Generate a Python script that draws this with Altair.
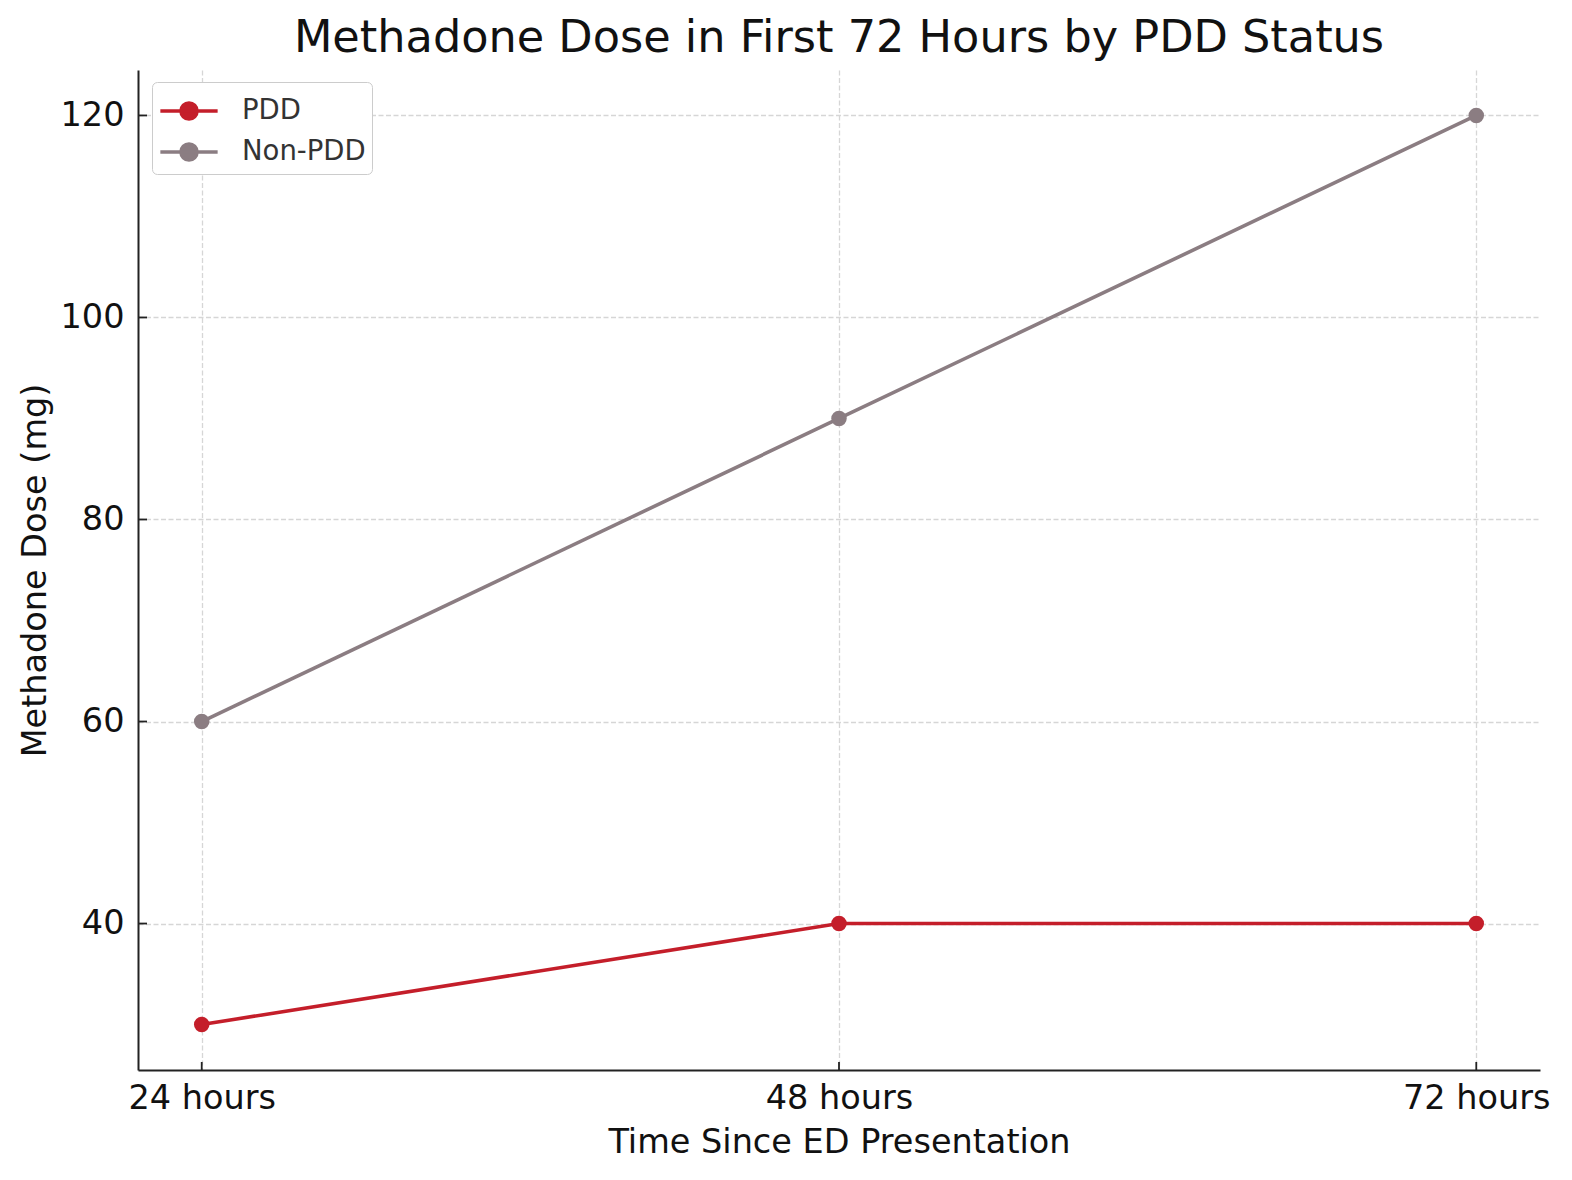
import altair as alt
import pandas as pd

times = ["24 hours", "48 hours", "72 hours"]
pdd = [30, 40, 40]
non_pdd = [60, 90, 120]
groups = ["PDD", "Non-PDD"]
colors = ["#C41E2A", "#8B7D82"]
y_ticks = [40, 60, 80, 100, 120]

rows = []
for g, vals in zip(groups, [pdd, non_pdd]):
    for t, v in zip(times, vals):
        rows.append({"time": t, "dose": v, "group": g})
df = pd.DataFrame(rows)
ytick_df = pd.DataFrame({"dose": y_ticks})
xtick_df = pd.DataFrame({"time": times})

font = "DejaVu Sans"

legend = alt.Legend(
    title=None, orient="none", legendX=14, legendY=12,
    symbolType="M-1.35,0H1.35M-0.38,0A0.38,0.38 0 1,0 0.38,0A0.38,0.38 0 1,0 -0.38,0",
    symbolSize=1800, symbolStrokeWidth=3.5, symbolOpacity=1, symbolOffset=8,
    labelFont=font, labelFontSize=27.5, labelColor="#333333",
    labelOffset=30, rowPadding=2,
    strokeColor="#cccccc", fillColor="white", cornerRadius=5,
    padding=6,
)

x = alt.X("time:N", sort=times, scale=alt.Scale(type="point", padding=0.1),
          axis=alt.Axis(title="Time Since ED Presentation", labelAngle=0, grid=True,
                        labelAlign="center", labelBaseline="top",
                        ticks=False, labelPadding=12, titlePadding=12))
y = alt.Y("dose:Q", scale=alt.Scale(domain=[25.5, 124.5], nice=False, zero=False),
          axis=alt.Axis(title="Methadone Dose (mg)", values=y_ticks, grid=True,
                        ticks=False, labelPadding=14, titlePadding=8))

base = alt.Chart(df)
lines = base.mark_line(strokeWidth=3.6).encode(
    x=x, y=y,
    stroke=alt.Stroke("group:N", sort=groups,
                      scale=alt.Scale(domain=groups, range=colors), legend=legend),
)
points = base.mark_point(filled=True, size=240, opacity=1).encode(
    x=x, y=y,
    fill=alt.Fill("group:N", sort=groups,
                  scale=alt.Scale(domain=groups, range=colors), legend=legend),
)
yticks = alt.Chart(ytick_df).mark_rule(color="#222222", strokeWidth=1.8).encode(
    y=y, x=alt.value(0), x2=alt.value(9),
)
xticks = alt.Chart(xtick_df).mark_rule(color="#222222", strokeWidth=1.8).encode(
    x=x, y=alt.value(1000), y2=alt.value(992),
)

chart = alt.layer(lines, points, yticks, xticks).properties(
    width=1402, height=1000,
    title=alt.Title("Methadone Dose in First 72 Hours by PDD Status",
                    font=font, fontSize=44.6, fontWeight="normal", color="#111111",
                    offset=8),
    autosize=alt.AutoSizeParams(type="none"),
    padding={"left": 130, "top": 62, "right": 24, "bottom": 100},
).configure_view(stroke=None).configure_axis(
    labelFont=font, titleFont=font, labelFontSize=33.5, titleFontSize=33.5,
    labelColor="#111111", titleColor="#111111", titleFontWeight="normal",
    domainColor="#222222", domainWidth=2,
    gridColor="#d6d6d6", gridDash=[5, 2.5], gridWidth=1.3,
)

chart.save("out.html", embed_options={"renderer": "svg", "actions": False})
